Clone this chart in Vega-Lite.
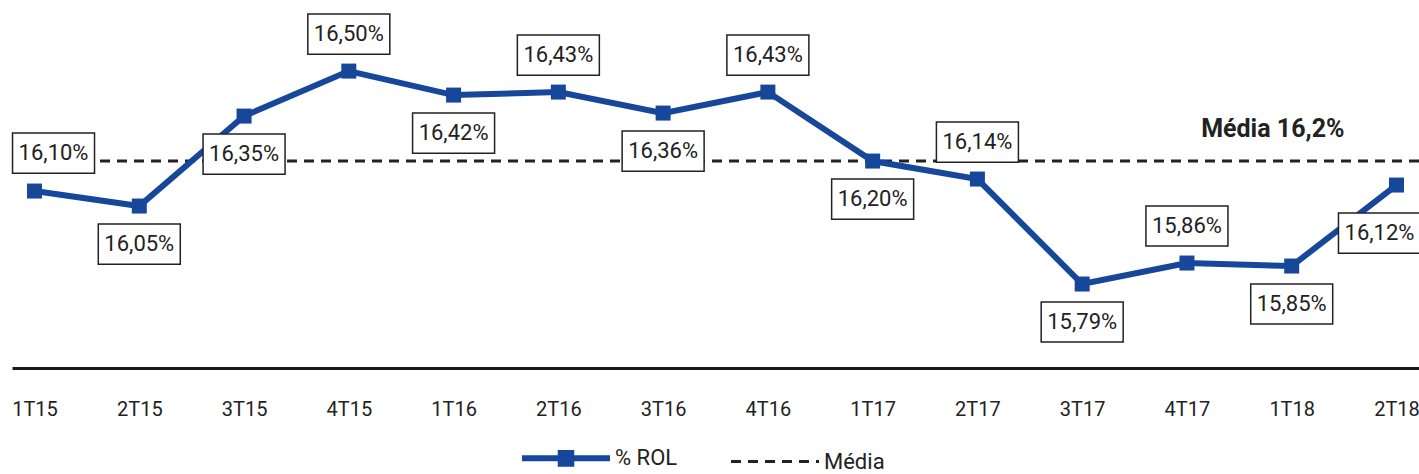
{
  "$schema": "https://vega.github.io/schema/vega-lite/v6.json",
  "width": 1407,
  "height": 368,
  "autosize": {"type": "none"},
  "padding": {"left": 12, "top": 0, "right": 0, "bottom": 106},
  "background": "white",
  "config": {"view": {"stroke": null}, "font": "Roboto"},
  "datasets": {
    "rol": [
      {"q": "1T15", "value": 16.10, "label": "16,10%", "pos": "above-right"},
      {"q": "2T15", "value": 16.05, "label": "16,05%", "pos": "below"},
      {"q": "3T15", "value": 16.35, "label": "16,35%", "pos": "below"},
      {"q": "4T15", "value": 16.50, "label": "16,50%", "pos": "above"},
      {"q": "1T16", "value": 16.42, "label": "16,42%", "pos": "below"},
      {"q": "2T16", "value": 16.43, "label": "16,43%", "pos": "above"},
      {"q": "3T16", "value": 16.36, "label": "16,36%", "pos": "below"},
      {"q": "4T16", "value": 16.43, "label": "16,43%", "pos": "above"},
      {"q": "1T17", "value": 16.20, "label": "16,20%", "pos": "below"},
      {"q": "2T17", "value": 16.14, "label": "16,14%", "pos": "above"},
      {"q": "3T17", "value": 15.79, "label": "15,79%", "pos": "below"},
      {"q": "4T17", "value": 15.86, "label": "15,86%", "pos": "above"},
      {"q": "1T18", "value": 15.85, "label": "15,85%", "pos": "below"},
      {"q": "2T18", "value": 16.12, "label": "16,12%", "pos": "below-left"}
    ],
    "media": [{"serie": "Média", "media": 16.2, "label": "Média 16,2%"}]
  },
  "layer": [
    {
      "data": {"name": "media"},
      "mark": {"type": "rule", "strokeWidth": 3},
      "encoding": {
        "y": {"field": "media", "type": "quantitative", "scale": {"domain": [15.51, 16.737], "zero": false, "nice": false}, "axis": null},
        "color": {
          "field": "serie", "type": "nominal",
          "scale": {"domain": ["% ROL", "Média"], "range": ["#17479a", "#222222"]},
          "legend": {
            "title": null, "orient": "none", "legendX": 543, "legendY": 447, "direction": "horizontal",
            "symbolType": "stroke", "symbolSize": 7744, "symbolStrokeWidth": 6,
            "labelFontSize": 22, "labelColor": "#222222", "labelOffset": 38, "columnPadding": 47, "labelBaseline": "middle",
            "encode": {"symbols": {"update": {
              "shape": {"signal": "datum.value === '% ROL' ? 'M-1,0L1,0M-0.12,-0.12L0.12,-0.12L0.12,0.12L-0.12,0.12Z' : 'M-1,0L1,0'"},
              "fill": {"signal": "datum.value === '% ROL' ? '#17479a' : 'transparent'"},
              "strokeWidth": {"signal": "datum.value === '% ROL' ? 6 : 3"}
            }}}
          }
        },
        "strokeDash": {
          "field": "serie", "type": "nominal",
          "scale": {"domain": ["% ROL", "Média"], "range": [[1, 0], [10, 7]]},
          "legend": {
            "title": null, "orient": "none", "legendX": 543, "legendY": 447, "direction": "horizontal",
            "symbolType": "stroke", "symbolSize": 7744, "symbolStrokeWidth": 6,
            "labelFontSize": 22, "labelColor": "#222222", "labelOffset": 38, "columnPadding": 47, "labelBaseline": "middle"
          }
        }
      }
    },
    {
      "data": {"name": "rol"},
      "mark": {"type": "line", "color": "#17479a", "strokeWidth": 6},
      "encoding": {
        "x": {"field": "q", "type": "ordinal", "sort": null, "scale": {"type": "point", "padding": 0.215},
          "axis": {"title": null, "domainColor": "#1a1a1a", "domainWidth": 3, "ticks": false, "grid": false,
            "labelFontSize": 20, "labelColor": "#222222", "labelPadding": 31, "labelAngle": 0}},
        "y": {"field": "value", "type": "quantitative", "scale": {"domain": [15.51, 16.737], "zero": false, "nice": false}, "axis": null}
      }
    },
    {
      "data": {"name": "rol"},
      "mark": {"type": "point", "shape": "square", "size": 225, "filled": true, "opacity": 1, "color": "#17479a"},
      "encoding": {
        "x": {"field": "q", "type": "ordinal", "sort": null},
        "y": {"field": "value", "type": "quantitative"}
      }
    },
    {
      "data": {"name": "rol"},
      "transform": [{"filter": "datum.pos === 'above'"}],
      "layer": [
        {"mark": {"type": "point", "shape": "M-1,-0.49L1,-0.49L1,0.49L-1,0.49Z", "size": 6724, "filled": true, "fill": "white", "stroke": "#222222", "strokeWidth": 1.5, "opacity": 1, "yOffset": -37}},
        {"mark": {"type": "text", "fontSize": 22, "color": "#222222", "baseline": "middle", "align": "center", "yOffset": -37}, "encoding": {"text": {"field": "label"}}}
      ],
      "encoding": {
        "x": {"field": "q", "type": "ordinal", "sort": null},
        "y": {"field": "value", "type": "quantitative"}
      }
    },
    {
      "data": {"name": "rol"},
      "transform": [{"filter": "datum.pos === 'above-right'"}],
      "layer": [
        {"mark": {"type": "point", "shape": "M-1,-0.49L1,-0.49L1,0.49L-1,0.49Z", "size": 6724, "filled": true, "fill": "white", "stroke": "#222222", "strokeWidth": 1.5, "opacity": 1, "yOffset": -38, "xOffset": 19}},
        {"mark": {"type": "text", "fontSize": 22, "color": "#222222", "baseline": "middle", "align": "center", "yOffset": -38, "xOffset": 19}, "encoding": {"text": {"field": "label"}}}
      ],
      "encoding": {
        "x": {"field": "q", "type": "ordinal", "sort": null},
        "y": {"field": "value", "type": "quantitative"}
      }
    },
    {
      "data": {"name": "rol"},
      "transform": [{"filter": "datum.pos === 'below'"}],
      "layer": [
        {"mark": {"type": "point", "shape": "M-1,-0.49L1,-0.49L1,0.49L-1,0.49Z", "size": 6724, "filled": true, "fill": "white", "stroke": "#222222", "strokeWidth": 1.5, "opacity": 1, "yOffset": 38}},
        {"mark": {"type": "text", "fontSize": 22, "color": "#222222", "baseline": "middle", "align": "center", "yOffset": 38}, "encoding": {"text": {"field": "label"}}}
      ],
      "encoding": {
        "x": {"field": "q", "type": "ordinal", "sort": null},
        "y": {"field": "value", "type": "quantitative"}
      }
    },
    {
      "data": {"name": "rol"},
      "transform": [{"filter": "datum.pos === 'below-left'"}],
      "layer": [
        {"mark": {"type": "point", "shape": "M-1,-0.49L1,-0.49L1,0.49L-1,0.49Z", "size": 6724, "filled": true, "fill": "white", "stroke": "#222222", "strokeWidth": 1.5, "opacity": 1, "yOffset": 48, "xOffset": -17}},
        {"mark": {"type": "text", "fontSize": 22, "color": "#222222", "baseline": "middle", "align": "center", "yOffset": 48, "xOffset": -17}, "encoding": {"text": {"field": "label"}}}
      ],
      "encoding": {
        "x": {"field": "q", "type": "ordinal", "sort": null},
        "y": {"field": "value", "type": "quantitative"}
      }
    },
    {
      "data": {"name": "media"},
      "mark": {"type": "text", "fontSize": 25, "fontWeight": "bold", "color": "#222222", "align": "right", "baseline": "middle", "dx": -52, "dy": -32},
      "encoding": {
        "x": {"datum": "2T18"},
        "y": {"field": "media", "type": "quantitative"},
        "text": {"field": "label"}
      }
    }
  ]
}
